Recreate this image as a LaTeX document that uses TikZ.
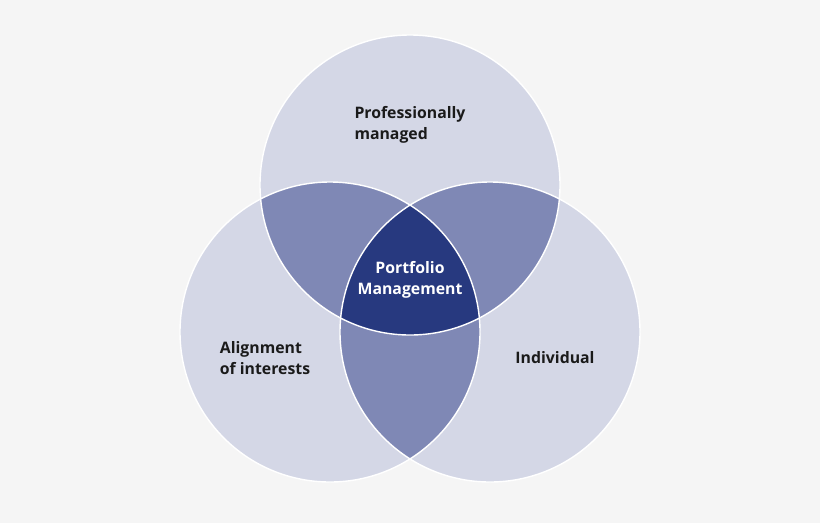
\documentclass[tikz,border=0pt]{standalone}
\usepackage{fontspec}
\setmainfont{Open Sans}
\definecolor{bg}{HTML}{F5F5F5}
\definecolor{light}{HTML}{D4D7E6}
\definecolor{mid}{HTML}{7F88B5}
\definecolor{dark}{HTML}{27397F}
\definecolor{txt}{HTML}{1A1A1A}
\begin{document}
\begin{tikzpicture}[x=0.03cm,y=-0.03cm,
  lbl/.style={font=\fontsize{13.5}{18}\selectfont\bfseries, text=txt, align=left, inner sep=0pt}]
\fill[bg] (0,0) rectangle (820,523);
\useasboundingbox (0,0) rectangle (820,523);
\def\circA{(410,185) circle[radius=150]}
\def\circB{(330,332) circle[radius=150]}
\def\circC{(490,332) circle[radius=150]}
\fill[light] \circA; \fill[light] \circB; \fill[light] \circC;
\begin{scope}\clip \circA; \fill[mid] \circB; \fill[mid] \circC; \end{scope}
\begin{scope}\clip \circB; \fill[mid] \circC; \end{scope}
\begin{scope}\clip \circA; \clip \circB; \fill[dark] \circC; \end{scope}
\draw[white, line width=1.2pt] \circA \circB \circC;
\node[lbl] (pm) at (410,125) {Professionally\\managed};
\node[lbl, text=white, align=center] (port) at (410,280) {Portfolio\\Management};
\node[lbl] (ai) at (265,358) {Alignment\\of interests};
\node[lbl] (ind) at (555,358) {Individual};
\end{tikzpicture}
\end{document}
